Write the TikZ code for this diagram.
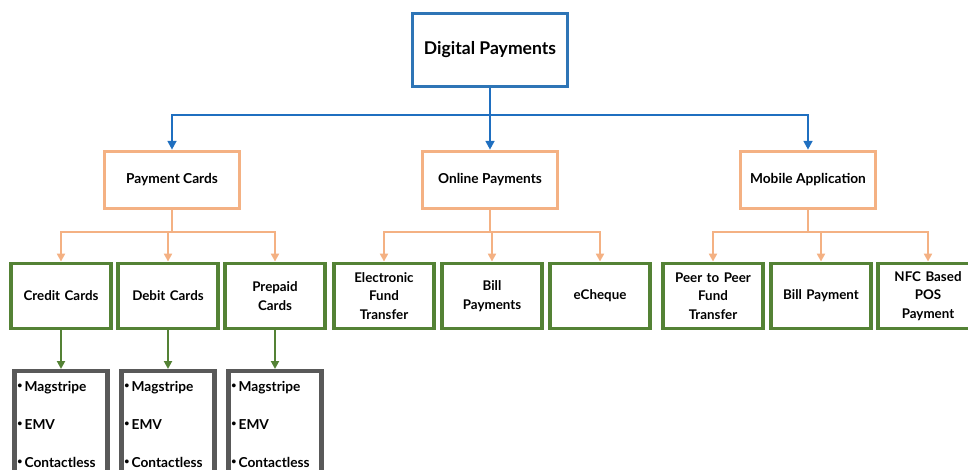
\documentclass[tikz,border=0pt]{standalone}
\usepackage{fontspec}
\setmainfont{Lato}
\usepackage{tikz}
\usetikzlibrary{arrows.meta}
\definecolor{rootblue}{HTML}{2E75B6}
\definecolor{linkblue}{HTML}{1F6FC0}
\definecolor{catorange}{HTML}{F4B183}
\definecolor{typegreen}{HTML}{548235}
\definecolor{listgray}{HTML}{595959}
\tikzstyle{root} = [draw=rootblue, line width=1.8pt, minimum width=3.1cm, minimum height=1.45cm, font=\bfseries\fontsize{10}{12}\selectfont]
\tikzstyle{category} = [draw=catorange, line width=1.8pt, minimum width=2.7cm, minimum height=1.15cm, font=\bfseries\fontsize{7.8}{9}\selectfont]
\tikzstyle{method} = [draw=typegreen, line width=2.2pt, minimum width=1.9cm, minimum height=1.3cm, text width=1.75cm, align=center, font=\bfseries\fontsize{7.6}{10.5}\selectfont]
\tikzstyle{variants} = [draw=listgray, line width=2.4pt, anchor=north, minimum width=1.86cm, text width=1.75cm, inner xsep=1pt, inner ysep=6pt, align=left, font=\bfseries\fontsize{7.8}{9}\selectfont]
\tikzstyle{bluearrow} = [linkblue, line width=1.2pt, -{Triangle[width=5pt,length=5pt]}]
\tikzstyle{orangearrow} = [catorange, line width=1.2pt, -{Triangle[width=4.5pt,length=4.5pt]}]
\tikzstyle{greenarrow} = [typegreen, line width=1.2pt, -{Triangle[width=4.5pt,length=4.5pt]}]
\newcommand{\dotitem}{\raisebox{0.22em}{\fontsize{5}{5}\selectfont\textbullet}\,}
\newcommand{\cardlist}{\dotitem Magstripe\\[12.5pt]\dotitem EMV\\[12.5pt]\dotitem Contactless}

\begin{document}
\begin{tikzpicture}[x=0.02cm, y=-0.02cm]
	\clip (0,0) rectangle (968,470);

	\node[root](dp) at (490, 50){Digital Payments};

	\node[category](pc) at (172, 180){Payment Cards};
	\node[category](op) at (490, 180){Online Payments};
	\node[category](ma) at (808, 180){Mobile Application};
	\draw[bluearrow](dp.south) -- ++(0, 27) -| (pc.north);
	\draw[bluearrow](dp.south) -- (op.north);
	\draw[bluearrow](dp.south) -- ++(0, 27) -| (ma.north);

	\node[method](cc) at (61, 296){Credit Cards};
	\node[method](dc) at (168, 296){Debit Cards};
	\node[method](pp) at (275, 296){Prepaid\\Cards};
	\draw[orangearrow](pc.south) -- ++(0, 22) -| (cc.north);
	\draw[orangearrow](pc.south) -- ++(0, 22) -| (dc.north);
	\draw[orangearrow](pc.south) -- ++(0, 22) -| (pp.north);

	\node[method](eft) at (384, 296){Electronic\\Fund\\Transfer};
	\node[method](bps) at (492, 296){Bill\\Payments};
	\node[method](ec) at (600, 296){eCheque};
	\draw[orangearrow](op.south) -- ++(0, 22) -| (eft.north);
	\draw[orangearrow](op.south) -- ++(0, 22) -| (bps.north);
	\draw[orangearrow](op.south) -- ++(0, 22) -| (ec.north);

	\node[method](ptp) at (713, 296){Peer to Peer\\Fund\\Transfer};
	\node[method](bp) at (821, 296){Bill Payment};
	\node[method](nfc) at (928, 296){NFC Based\\POS\\Payment};
	\draw[orangearrow](ma.south) -- ++(0, 22) -| (ptp.north);
	\draw[orangearrow](ma.south) -- ++(0, 22) -| (bp.north);
	\draw[orangearrow](ma.south) -- ++(0, 22) -| (nfc.north);

	\node[variants](ccl) at (61, 369){\cardlist};
	\node[variants](dcl) at (168, 369){\cardlist};
	\node[variants](ppl) at (275, 369){\cardlist};
	\draw[greenarrow](cc) -- (ccl);
	\draw[greenarrow](dc) -- (dcl);
	\draw[greenarrow](pp) -- (ppl);
\end{tikzpicture}
\end{document}
